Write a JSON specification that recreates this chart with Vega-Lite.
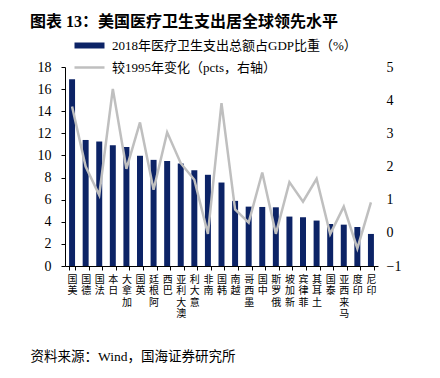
{
  "$schema": "https://vega.github.io/schema/vega-lite/v6.json",
  "width": 313,
  "height": 199,
  "autosize": {"type": "none"},
  "padding": {"left": 65, "top": 67, "right": 62, "bottom": 112},
  "background": "white",
  "title": {
    "text": "图表 13：美国医疗卫生支出居全球领先水平",
    "anchor": "start",
    "frame": "group",
    "dx": -35,
    "offset": 9,
    "fontSize": 16,
    "fontWeight": "bold",
    "font": "Liberation Serif, Noto Sans CJK SC",
    "color": "#000000"
  },
  "data": {
    "values": [
      {"country": "美国", "share": 16.9, "change": 3.81},
      {"country": "德国", "share": 11.4, "change": 2.0},
      {"country": "法国", "share": 11.26, "change": 1.14},
      {"country": "日本", "share": 10.92, "change": 4.34},
      {"country": "加拿大", "share": 10.76, "change": 1.93},
      {"country": "英国", "share": 9.97, "change": 3.33},
      {"country": "阿根廷", "share": 9.6, "change": 1.3},
      {"country": "巴西", "share": 9.5, "change": 3.03},
      {"country": "澳大利亚", "share": 9.27, "change": 2.1},
      {"country": "意大利", "share": 8.67, "change": 1.6},
      {"country": "南非", "share": 8.25, "change": -0.03},
      {"country": "韩国", "share": 7.55, "change": 3.91},
      {"country": "越南", "share": 5.89, "change": 0.71},
      {"country": "墨西哥", "share": 5.37, "change": 0.31},
      {"country": "中国", "share": 5.34, "change": 1.82},
      {"country": "俄罗斯", "share": 5.31, "change": -0.03},
      {"country": "新加坡", "share": 4.47, "change": 1.53},
      {"country": "菲律宾", "share": 4.41, "change": 0.94},
      {"country": "土耳其", "share": 4.11, "change": 1.63},
      {"country": "泰国", "share": 3.8, "change": -0.04},
      {"country": "马来西亚", "share": 3.74, "change": 0.79},
      {"country": "印度", "share": 3.53, "change": -0.47},
      {"country": "印尼", "share": 2.9, "change": 0.92}
    ]
  },
  "encoding": {
    "x": {
      "field": "country",
      "type": "nominal",
      "sort": null,
      "scale": {"paddingInner": 0.56, "paddingOuter": 0.3},
      "axis": {
        "title": "资料来源：Wind，国海证券研究所",
        "titleAnchor": "start",
        "titleAlign": "left",
        "titleBaseline": "middle",
        "titleX": -35,
        "titleY": 90,
        "titleFontSize": 13.5,
        "titleFontWeight": "normal",
        "titleFont": "Liberation Serif, Noto Sans CJK SC",
        "titleColor": "#000000",
        "labelExpr": "reverse(split(datum.label, ''))",
        "labelAngle": 0,
        "labelAlign": "center",
        "labelBaseline": "top",
        "labelLineHeight": 11.5,
        "labelFontSize": 10,
        "labelFont": "Noto Sans CJK SC",
        "labelColor": "#000000",
        "labelPadding": 4,
        "labelOverlap": false,
        "labelBound": false,
        "tickBand": "extent",
        "tickSize": 4,
        "tickColor": "#000000",
        "domainColor": "#000000",
        "grid": false
      }
    }
  },
  "layer": [
    {
      "mark": {"type": "bar"},
      "encoding": {
        "y": {
          "field": "share",
          "type": "quantitative",
          "scale": {"domain": [0, 18], "nice": false},
          "axis": {
            "title": null,
            "values": [0, 2, 4, 6, 8, 10, 12, 14, 16, 18],
            "orient": "left",
            "grid": false,
            "domainColor": "#000000",
            "tickColor": "#000000",
            "tickSize": 4,
            "labelFontSize": 14,
            "labelFont": "Liberation Serif",
            "labelColor": "#000000",
            "labelPadding": 10
          }
        },
        "color": {
          "datum": "2018年医疗卫生支出总额占GDP比重（%）",
          "type": "nominal",
          "scale": {
            "domain": ["2018年医疗卫生支出总额占GDP比重（%）", "较1995年变化（pcts，右轴）"],
            "range": ["#0C2366", "#BFBFBF"]
          },
          "legend": {
            "orient": "none",
            "legendX": 18,
            "legendY": -28,
            "direction": "vertical",
            "title": null,
            "symbolType": "M-3,0H3",
            "symbolSize": 100,
            "labelOffset": 16,
            "labelFontSize": 13,
            "labelFont": "Liberation Serif, Noto Sans CJK SC",
            "labelColor": "#000000",
            "rowPadding": 3,
            "labelLimit": 400,
            "encode": {
              "symbols": {
                "update": {
                  "strokeWidth": {"signal": "datum.index === 0 ? 6 : 2.5"},
                  "stroke": {"scale": "color", "field": "value"},
                  "fill": {"value": "transparent"},
                  "opacity": {"value": 1}
                }
              }
            }
          }
        }
      }
    },
    {
      "mark": {"type": "line", "strokeWidth": 2.5},
      "encoding": {
        "y": {
          "field": "change",
          "type": "quantitative",
          "scale": {"domain": [-1, 5], "nice": false},
          "axis": {
            "title": null,
            "values": [-1, 0, 1, 2, 3, 4, 5],
            "orient": "right",
            "grid": false,
            "domain": false,
            "ticks": false,
            "labelFontSize": 14,
            "labelFont": "Liberation Serif",
            "labelColor": "#000000",
            "labelPadding": 8
          }
        },
        "color": {"datum": "较1995年变化（pcts，右轴）", "type": "nominal"}
      }
    }
  ],
  "resolve": {"scale": {"y": "independent"}},
  "config": {"view": {"stroke": null}}
}
